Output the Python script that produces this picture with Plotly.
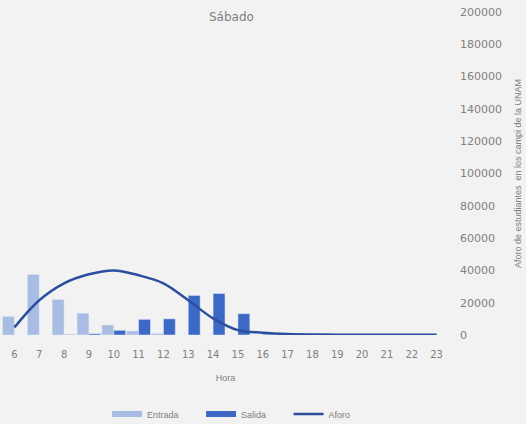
import plotly.graph_objects as go

horas = [str(h) for h in range(6, 24)]
entrada = [11500, 37500, 22000, 13500, 6200, 2500, 1000, 0, 0, 0, 0, 0, 0, 0, 0, 0, 0, 0]
salida = [0, 0, 300, 800, 2900, 9700, 10000, 24500, 25700, 13200, 500, 0, 0, 0, 0, 0, 0, 0]
aforo = [4700, 21500, 32000, 37600, 40000, 37000, 32000, 21500, 10300, 3000, 1400, 600, 300, 200, 100, 100, 100, 100]
y_ticks = list(range(0, 200001, 20000))

c_ent = "#a9bce3"
c_sal = "#3d69c6"
c_afo = "#2b4f9e"
pad = "\u00a0" * 7

fig = go.Figure()
fig.add_trace(go.Bar(x=horas, y=entrada, name="Entrada", marker_color=c_ent, showlegend=False))
fig.add_trace(go.Bar(x=horas, y=salida, name="Salida", marker_color=c_sal, showlegend=False))
fig.add_trace(go.Scatter(x=horas, y=aforo, name="Aforo", mode="lines",
                         line=dict(color=c_afo, width=2.5, shape="spline"), showlegend=False))
# legend-only entries mimicking the wide rectangular swatches
fig.add_trace(go.Scatter(x=[None], y=[None], mode="lines", name="Entrada" + pad,
                         line=dict(color=c_ent, width=6)))
fig.add_trace(go.Scatter(x=[None], y=[None], mode="lines", name="Salida" + pad,
                         line=dict(color=c_sal, width=6)))
fig.add_trace(go.Scatter(x=[None], y=[None], mode="lines", name="Aforo",
                         line=dict(color=c_afo, width=2.5)))

fig.update_layout(
    width=526, height=424,
    paper_bgcolor="#f2f2f2", plot_bgcolor="#f2f2f2",
    margin=dict(l=2, r=77, t=12, b=89, autoexpand=False),
    barmode="group", bargap=0.04, bargroupgap=0,
    font=dict(family="DejaVu Sans, sans-serif", size=10, color="#808080"),
    title=dict(text="Sábado", x=0.44, xanchor="center", y=0.96, yanchor="middle",
               font=dict(size=12, color="#7f7f7f")),
    showlegend=True,
    legend=dict(orientation="h", x=0.235, xanchor="left", y=-0.2, yanchor="top",
                font=dict(family="Liberation Sans, sans-serif", size=9, color="#808080"),
                tracegroupgap=0),
    xaxis=dict(type="category", showgrid=False, showline=False, ticks="",
               ticklabelstandoff=12, automargin=False,
               title=dict(text="Hora", font=dict(family="Liberation Sans, sans-serif", size=9, color="#808080"), standoff=15),
               tickfont=dict(size=10, color="#808080")),
    yaxis=dict(side="right", range=[0, 200000], tickvals=y_ticks, tickformat="d",
               showgrid=False, zeroline=False, showline=False, ticks="",
               ticklabelstandoff=10, automargin=False,
               title=dict(text="Aforo de estudiantes  en los campi de la UNAM",
                          font=dict(family="Liberation Sans, sans-serif", size=9, color="#808080"), standoff=13),
               tickfont=dict(size=11, color="#808080")),
)

fig.write_html("out.html", config={"displayModeBar": False},
               post_script="document.body.style.margin='0';document.body.style.background='#f2f2f2';")
